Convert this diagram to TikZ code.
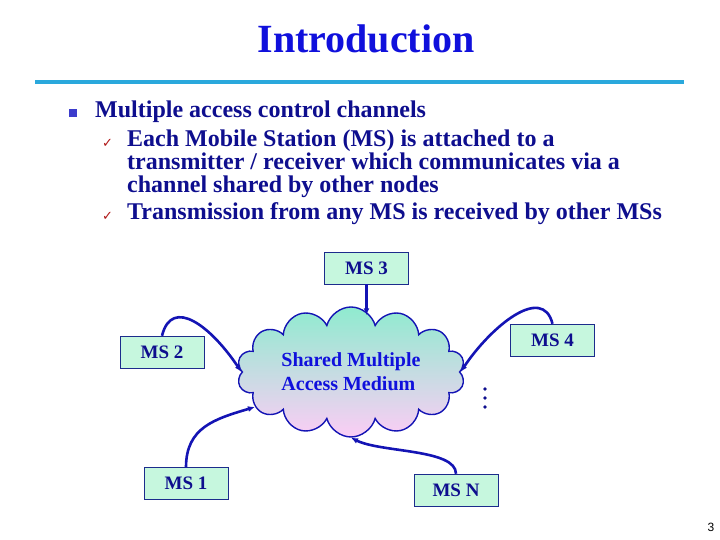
\documentclass[tikz,border=0pt]{standalone}
\usepackage{fontspec}
\setmainfont{Liberation Serif}
\newfontfamily\symfont{DejaVu Sans}
\newfontfamily\pagefont{Liberation Sans}
\definecolor{titleblue}{HTML}{1010DC}
\definecolor{textblue}{HTML}{0E0E8E}
\definecolor{rulecyan}{HTML}{2AA8DC}
\definecolor{bulletblue}{HTML}{3C3CCC}
\definecolor{checkred}{HTML}{B01818}
\definecolor{boxfill}{HTML}{C6F7DE}
\definecolor{boxline}{HTML}{1C2C8C}
\definecolor{linkblue}{HTML}{1414B4}
\definecolor{cloudtop}{HTML}{8FEBCF}
\definecolor{cloudbot}{HTML}{FBCDF5}
\usetikzlibrary{shapes,arrows.meta,positioning,calc}

\begin{document}
\begin{tikzpicture}[x=1pt, y=1pt,
  msbox/.style={draw=boxline, fill=boxfill, minimum width=84pt, minimum height=32pt, inner sep=0pt,
    font=\fontsize{19}{22}\selectfont\bfseries, text=textblue},
  link/.style={draw=linkblue, line width=2.6pt, -{Latex[length=7pt,width=6pt]}},
  itemtext/.style={anchor=base west, inner sep=0pt, align=left, text=textblue,
    font=\fontsize{24}{23}\selectfont\bfseries},
  tick/.style={anchor=base west, inner sep=0pt, text=checkred, font=\symfont\fontsize{13}{13}\selectfont}]
\useasboundingbox (0,0) rectangle (720,540);

% Title
\node[text=titleblue, font=\fontsize{40}{44}\selectfont\bfseries] (title) at (366,501) {Introduction};
\draw[rulecyan, line width=3.5pt] (35,458) -- (684,458);

% Bullets
\fill[bulletblue] (68.5,423) rectangle (76.5,431);
\node[itemtext] (item) at (95,422) {Multiple access control channels};
\node[tick] (tick1) at (102,392) {✓};
\node[itemtext] (sub1) at (127,347) {Each Mobile Station (MS) is attached to a\\transmitter / receiver which communicates via a\\channel shared by other nodes};
\node[tick] (tick2) at (102,319) {✓};
\node[itemtext] (sub2) at (127,320) {Transmission from any MS is received by other MSs};

% Shared medium
\node[cloud, cloud puffs=14, aspect=2.2, inner sep=0pt, draw=linkblue, line width=1.4pt,
  top color=cloudtop, bottom color=cloudbot, minimum width=228pt, minimum height=130pt,
  align=left, text=titleblue, font=\fontsize{20}{24}\selectfont\bfseries] (cloud) at (351,168)
  {Shared Multiple\\Access Medium};

% Mobile stations
\node[msbox] (ms3) at (366.5,272) {MS 3};
\node[msbox] (ms2) at (162,188) {MS 2};
\node[msbox] (ms4) at (552.5,200) {MS 4};
\node[msbox] (ms1) at (186,56.5) {MS 1};
\node[msbox] (msn) at (456,50) {MS N};

% Links to the medium
\draw[link, shorten >=-9pt] (ms3.south) -- (ms3.south |- cloud.north);
\draw[link] (ms2.north) .. controls +(10,40) and +(-30,45) .. (cloud.west);
\draw[link] (ms4.north) .. controls +(-10,40) and +(30,45) .. (cloud.east);
\draw[link] (ms1.north) .. controls +(0,40) and +(-40,-12) .. (cloud.200);
\draw[link] (msn.north) .. controls +(0,25) and +(30,-15) .. (cloud.south);

% More stations
\foreach \y in {151,142,133}
  \fill[textblue] (485,\y) circle (1.8);

% Page number
\node[font=\pagefont\fontsize{12}{12}\selectfont] (page) at (711,13) {3};
\end{tikzpicture}
\end{document}
